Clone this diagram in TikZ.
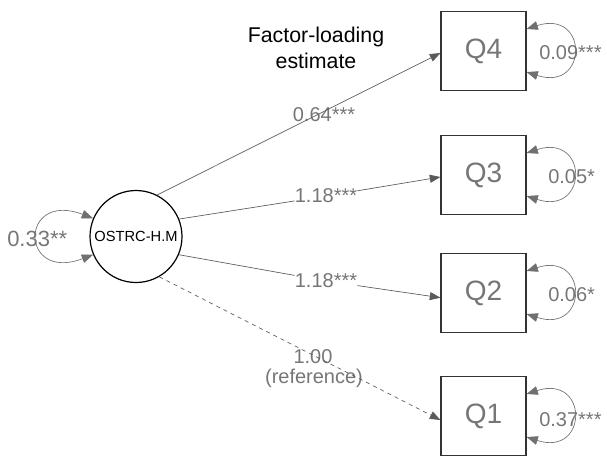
\documentclass[tikz,border=0pt]{standalone}
\usepackage{fontspec}
\setmainfont{Liberation Sans}
\usetikzlibrary{arrows.meta}
\definecolor{ln}{HTML}{5A5A5A}
\definecolor{lp}{HTML}{707070}
\definecolor{tx}{HTML}{767676}
\begin{document}
\begin{tikzpicture}[x=0.75pt,y=-0.75pt,
  obs/.style={draw=black!80,line width=0.8pt,minimum width=63.75pt,minimum height=59pt,inner sep=0pt,text=tx,font=\fontsize{21}{23}\selectfont},
  lat/.style={circle,draw=black,line width=0.9pt,minimum size=69pt,inner sep=0pt,font=\fontsize{11}{12}\selectfont},
  load/.style={-{Triangle[length=8pt,width=6pt]},draw=ln,line width=0.5pt},
  loop/.style={{Triangle[length=8.5pt,width=6.5pt]}-{Triangle[length=8.5pt,width=6.5pt]},draw=lp,line width=0.5pt},
  lab/.style={text=tx,font=\fontsize{15}{17}\selectfont,inner sep=0pt},
  var/.style={text=tx,font=\fontsize{15}{17}\selectfont,inner sep=0pt}]
\useasboundingbox (0,0) rectangle (607,455);
\node[lat] (L) at (136,236.5) {OSTRC-H.M};
\node[obs] (q4) at (483.5,51) {Q4};
\node[obs] (q3) at (483.5,175) {Q3};
\node[obs] (q2) at (483.5,293) {Q2};
\node[obs] (q1) at (483.5,416) {Q1};
% labels
\node[lab] (l4) at (324,115) {0.64***};
\node[lab,fill=white] (l3) at (326,196) {1.18***};
\node[lab,fill=white] (l2) at (326,281) {1.18***};
\node[lab] (l1a) at (313,357) {1.00};
\node[lab] (l1b) at (314,378) {(reference)};
\node[align=center,font=\fontsize{16}{19}\selectfont,inner sep=0pt] (title) at (316,48) {Factor-loading\\estimate};
% loadings
\draw[load] (L.63) -- ([yshift=-1.5pt]q4.west);
\draw[load] (L.22) -- (l3) -- ([yshift=-1.5pt]q3.west);
\draw[load] (L.-23) -- (l2) -- ([yshift=-3.5pt]q2.west);
\draw[load,dashed] (L.-60) -- ([yshift=-3pt]q1.west);
% variance loops
\draw[loop] ([yshift=16.5pt]q4.east) .. controls +(62,-20) and +(62,20) .. ([yshift=-15.75pt]q4.east);
\draw[loop] ([yshift=16.5pt]q3.east) .. controls +(62,-20) and +(62,20) .. ([yshift=-15.75pt]q3.east);
\draw[loop] ([yshift=16.5pt]q2.east) .. controls +(62,-20) and +(62,20) .. ([yshift=-15.75pt]q2.east);
\draw[loop] ([yshift=16.5pt]q1.east) .. controls +(62,-20) and +(62,20) .. ([yshift=-15.75pt]q1.east);
\draw[loop] (L.157) .. controls +(-74,-28) and +(-74,28) .. (L.-157);
\node[var,anchor=west] (v4) at (539,53) {0.09***};
\node[var,anchor=west] (v3) at (548,177) {0.05*};
\node[var,anchor=west] (v2) at (548,295) {0.06*};
\node[var,anchor=west] (v1) at (539,420) {0.37***};
\node[var,anchor=west,font=\fontsize{16.5}{18}\selectfont] (v0) at (7,239) {0.33**};
\end{tikzpicture}
\end{document}
